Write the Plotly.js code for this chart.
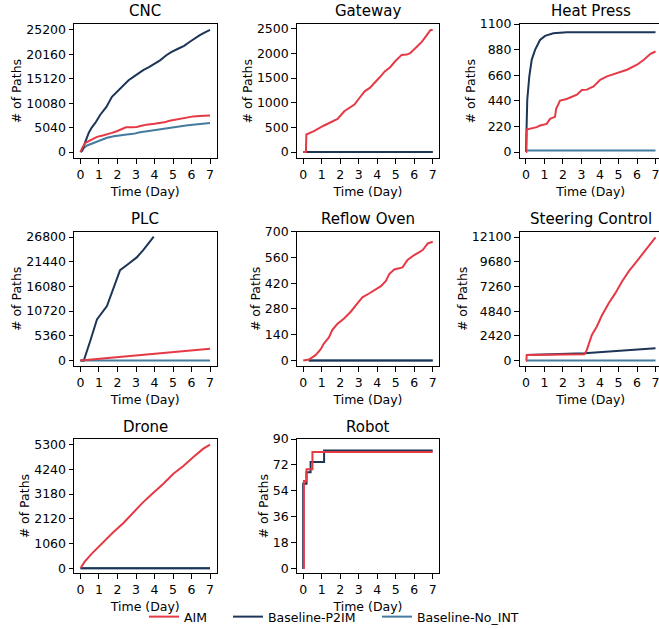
<!DOCTYPE html>
<html>
<head>
<meta charset="utf-8">
<script src="https://cdn.plot.ly/plotly-3.0.1.min.js"></script>
<style>
html,body{margin:0;padding:0;overflow:hidden;background:#fff;width:659px;height:629px;}
#chart{width:663px;height:645px;}
</style>
</head>
<body>
<div id="chart"></div>
<script>
// ---------------- data ----------------
const seriesNames = ['AIM', 'Baseline-P2IM', 'Baseline-No_INT'];
const panelTitles = ['CNC', 'Gateway', 'Heat Press', 'PLC', 'Reflow Oven', 'Steering Control', 'Drone', 'Robot'];
const dayTicks = [0, 1, 2, 3, 4, 5, 6, 7];

// y tick labels per panel
const cncTicks = [0, 5040, 10080, 15120, 20160, 25200];
const gatewayTicks = [0, 500, 1000, 1500, 2000, 2500];
const heatPressTicks = [0, 220, 440, 660, 880, 1100];
const plcTicks = [0, 5360, 10720, 16080, 21440, 26800];
const reflowTicks = [0, 140, 280, 420, 560, 700];
const steeringTicks = [0, 2420, 4840, 7260, 9680, 12100];
const droneTicks = [0, 1060, 2120, 3180, 4240, 5300];
const robotTicks = [0, 18, 36, 54, 72, 90];

// CNC
const cncAimX = [0, 0.1, 0.27, 0.45, 0.7, 0.89, 1.2, 1.43, 1.7, 1.96, 2.2, 2.46, 2.8, 3.04, 3.3, 3.57, 4.0, 4.29, 4.6, 4.82, 5.3, 5.71, 6.1, 6.43, 6.8, 7];
const cncAimY = [0, 900, 1900, 2250, 2700, 3130, 3400, 3600, 3950, 4290, 4700, 5100, 5120, 5180, 5400, 5650, 5850, 5990, 6200, 6470, 6800, 7220, 7350, 7420, 7500, 7560];
const cncP2imX = [0, 0.1, 0.25, 0.45, 0.6, 0.8, 1.07, 1.4, 1.7, 2.0, 2.32, 2.6, 2.86, 3.1, 3.39, 3.7, 4.02, 4.3, 4.64, 4.9, 5.27, 5.6, 5.89, 6.15, 6.43, 6.7, 7];
const cncP2imY = [0, 300, 2000, 4000, 5000, 6000, 7700, 9300, 11400, 12600, 13800, 14800, 15500, 16200, 16900, 17500, 18250, 18900, 19950, 20600, 21300, 21900, 22700, 23400, 24050, 24600, 25200];
const cncNoIntX = [0, 0.1, 0.36, 0.71, 1.0, 1.43, 1.8, 2.14, 2.5, 2.86, 3.21, 3.6, 3.93, 4.3, 4.64, 5.0, 5.36, 5.7, 6.07, 6.5, 7];
const cncNoIntY = [0, 600, 1360, 1900, 2400, 2930, 3250, 3470, 3600, 3750, 4090, 4300, 4500, 4700, 4970, 5150, 5310, 5480, 5650, 5800, 5990];

// Gateway
const gwAimX = [0, 0.15, 0.17, 0.58, 1.13, 1.5, 1.86, 2.22, 2.5, 2.77, 3.05, 3.32, 3.6, 3.86, 4.15, 4.41, 4.7, 4.96, 5.32, 5.6, 5.78, 6.1, 6.42, 6.7, 6.88, 7];
const gwAimY = [0, 0, 356, 423, 538, 600, 672, 827, 900, 961, 1100, 1230, 1300, 1398, 1520, 1633, 1720, 1835, 1969, 1975, 2003, 2120, 2238, 2380, 2473, 2473];
const gwP2imX = [0, 7];
const gwP2imY = [0, 0];
const gwNoIntX = [0, 7];
const gwNoIntY = [0, 0];

// Heat Press
const hpAimX = [0, 0.02, 0.04, 0.58, 0.76, 1.12, 1.3, 1.57, 1.63, 1.84, 2.2, 2.75, 3.02, 3.29, 3.65, 4.01, 4.38, 4.92, 5.46, 6.0, 6.37, 6.73, 7];
const hpAimY = [0, 0, 194, 214, 228, 242, 285, 302, 371, 442, 456, 493, 533, 536, 564, 621, 650, 678, 707, 750, 792, 844, 864];
const hpP2imX = [0, 0.01, 0.02, 0.07, 0.18, 0.31, 0.49, 0.76, 1.03, 1.48, 2.2, 7];
const hpP2imY = [0, 100, 222, 450, 650, 792, 878, 963, 998, 1020, 1029, 1029];
const hpNoIntX = [0, 7];
const hpNoIntY = [14, 14];

// PLC
const plcAimX = [0, 7];
const plcAimY = [0, 2530];
const plcP2imX = [0, 0.18, 0.54, 0.89, 1.43, 1.8, 2.14, 2.6, 3.04, 3.39, 3.96];
const plcP2imY = [0, 0, 4400, 8900, 11800, 16000, 19600, 21000, 22370, 23960, 26860];
const plcNoIntX = [0, 7];
const plcNoIntY = [0, 0];

// Reflow Oven
const rfAimX = [0, 0.31, 0.67, 0.94, 1.12, 1.39, 1.57, 1.84, 2.21, 2.57, 2.93, 3.2, 3.56, 3.83, 4.2, 4.47, 4.65, 4.92, 5.37, 5.64, 6.0, 6.46, 6.73, 7];
const rfAimY = [0, 5, 29, 60, 92, 125, 165, 198, 228, 265, 310, 343, 364, 383, 404, 433, 470, 495, 506, 546, 573, 600, 636, 645];
const rfP2imX = [0.3, 7];
const rfP2imY = [0, 0];
const rfNoIntX = [0.3, 7];
const rfNoIntY = [0, 0];

// Steering Control
const stAimX = [0, 0.02, 0.04, 1.0, 2.0, 3.16, 3.29, 3.56, 3.83, 4.1, 4.47, 4.83, 5.19, 5.55, 5.91, 6.28, 6.64, 7];
const stAimY = [0, 0, 556, 575, 595, 620, 1046, 2518, 3335, 4414, 5624, 6605, 7750, 8731, 9548, 10366, 11183, 12066];
const stP2imX = [0, 3.16, 7];
const stP2imY = [556, 720, 1200];
const stNoIntX = [0, 7];
const stNoIntY = [0, 0];

// Drone
const drAimX = [0, 0.23, 0.6, 0.87, 1.23, 1.77, 2.31, 2.85, 3.39, 3.94, 4.48, 5.02, 5.56, 6.1, 6.64, 7];
const drAimY = [0, 286, 616, 830, 1146, 1547, 1933, 2377, 2835, 3236, 3623, 4053, 4382, 4768, 5126, 5298];
const drP2imX = [0, 7];
const drP2imY = [0, 0];
const drNoIntX = [0, 7];
const drNoIntY = [0, 0];

// Robot (step curves)
const rbAimX = [0.04, 0.04, 0.18, 0.5, 7];
const rbAimY = [0, 61, 69, 81, 81];
const rbP2imX = [0, 0, 0.18, 0.4, 1.13, 7];
const rbP2imY = [0, 59, 67, 74, 82, 82];

// ---------------- build ----------------
const colors = {aim: '#e63946', p2im: '#1d3557', noint: '#457b9d'};
const W = 663, H = 645;   // canvas is a little larger than the 659x629 view; extra area is clipped
const colLeft = [74.0, 296.7, 519.5];
const colW = 142.5;
const rowTop = [24, 231.7, 439];
const rowH = 134.3;

const panels = [
  {aim: [cncAimX, cncAimY], p2im: [cncP2imX, cncP2imY], noint: [cncNoIntX, cncNoIntY], ticks: cncTicks, yr: [-1290, 26400]},
  {aim: [gwAimX, gwAimY], p2im: [gwP2imX, gwP2imY], noint: [gwNoIntX, gwNoIntY], ticks: gatewayTicks, yr: [-127, 2595]},
  {aim: [hpAimX, hpAimY], p2im: [hpP2imX, hpP2imY], noint: [hpNoIntX, hpNoIntY], ticks: heatPressTicks, yr: [-54, 1100]},
  {aim: [plcAimX, plcAimY], p2im: [plcP2imX, plcP2imY], noint: [plcNoIntX, plcNoIntY], ticks: plcTicks, yr: [-1200, 27950]},
  {aim: [rfAimX, rfAimY], p2im: [rfP2imX, rfP2imY], noint: [rfNoIntX, rfNoIntY], ticks: reflowTicks, yr: [-30, 700]},
  {aim: [stAimX, stAimY], p2im: [stP2imX, stP2imY], noint: [stNoIntX, stNoIntY], ticks: steeringTicks, yr: [-530, 12620]},
  {aim: [drAimX, drAimY], p2im: [drP2imX, drP2imY], noint: [drNoIntX, drNoIntY], ticks: droneTicks, yr: [-216, 5540]},
  {aim: [rbAimX, rbAimY], p2im: [rbP2imX, rbP2imY], noint: null, ticks: robotTicks, yr: [-3, 90], step: true}
];

const FONT = '"DejaVu Sans", Verdana, sans-serif';
const traces = [];
const layout = {
  width: W, height: H,
  margin: {l: 0, r: 0, t: 0, b: 0},
  paper_bgcolor: '#fff', plot_bgcolor: '#fff',
  font: {family: FONT, size: 12.5, color: '#000'},
  annotations: [],
  showlegend: true
};

panels.forEach((p, i) => {
  const n = i + 1;
  const xa = 'x' + (n === 1 ? '' : n), ya = 'y' + (n === 1 ? '' : n);
  const c = i % 3, r = Math.floor(i / 3);
  const xd = [colLeft[c] / W, (colLeft[c] + colW) / W];
  const yd = [1 - (rowTop[r] + rowH) / H, 1 - rowTop[r] / H];
  const axCommon = {
    showline: true, linecolor: '#000', linewidth: 1, mirror: true,
    ticks: 'outside', ticklen: 4.5, tickwidth: 1, tickcolor: '#000',
    showgrid: false, zeroline: false, fixedrange: true,
    tickfont: {family: FONT, size: 12.5, color: '#000'}
  };
  layout['xaxis' + (n === 1 ? '' : n)] = Object.assign({}, axCommon, {
    domain: xd, range: [-0.35, 7.35], anchor: ya,
    tickvals: dayTicks, ticktext: dayTicks.map(String),
    title: {text: 'Time (Day)', font: {family: FONT, size: 12.5, color: '#000'}, standoff: 6}
  });
  layout['yaxis' + (n === 1 ? '' : n)] = Object.assign({}, axCommon, {
    domain: yd, range: p.yr, anchor: xa,
    tickvals: p.ticks, ticktext: p.ticks.map(String),
    title: {text: '# of Paths', font: {family: FONT, size: 12.5, color: '#000'}, standoff: 1}
  });
  layout.annotations.push({
    text: panelTitles[i], xref: 'paper', yref: 'paper',
    x: (xd[0] + xd[1]) / 2, y: yd[1], xanchor: 'center', yanchor: 'bottom',
    yshift: 1.5, showarrow: false, font: {family: FONT, size: 15, color: '#000'}
  });
  const shape = p.step ? 'hv' : 'linear';
  const first = (i === 0);
  if (p.noint) traces.push({x: p.noint[0], y: p.noint[1], xaxis: xa, yaxis: ya, mode: 'lines',
    name: seriesNames[2], legendgroup: 'noint', legend: 'legend3', showlegend: first,
    line: {color: colors.noint, width: 2, shape: shape}});
  traces.push({x: p.p2im[0], y: p.p2im[1], xaxis: xa, yaxis: ya, mode: 'lines',
    name: seriesNames[1], legendgroup: 'p2im', legend: 'legend2', showlegend: first,
    line: {color: colors.p2im, width: 2, shape: shape}});
  traces.push({x: p.aim[0], y: p.aim[1], xaxis: xa, yaxis: ya, mode: 'lines',
    name: seriesNames[0], legendgroup: 'aim', legend: 'legend', showlegend: first,
    line: {color: colors.aim, width: 2, shape: shape}});
});

const legY = 1 - 617 / H;
const legCommon = {orientation: 'h', yanchor: 'middle', y: legY, xanchor: 'left',
  bgcolor: 'rgba(0,0,0,0)', borderwidth: 0, font: {family: FONT, size: 12.5, color: '#000'}};
layout.legend = Object.assign({}, legCommon, {x: 144 / W});
layout.legend2 = Object.assign({}, legCommon, {x: 228 / W});
layout.legend3 = Object.assign({}, legCommon, {x: 377 / W});

Plotly.newPlot('chart', traces, layout, {displayModeBar: false, staticPlot: true});
</script>
</body>
</html>
